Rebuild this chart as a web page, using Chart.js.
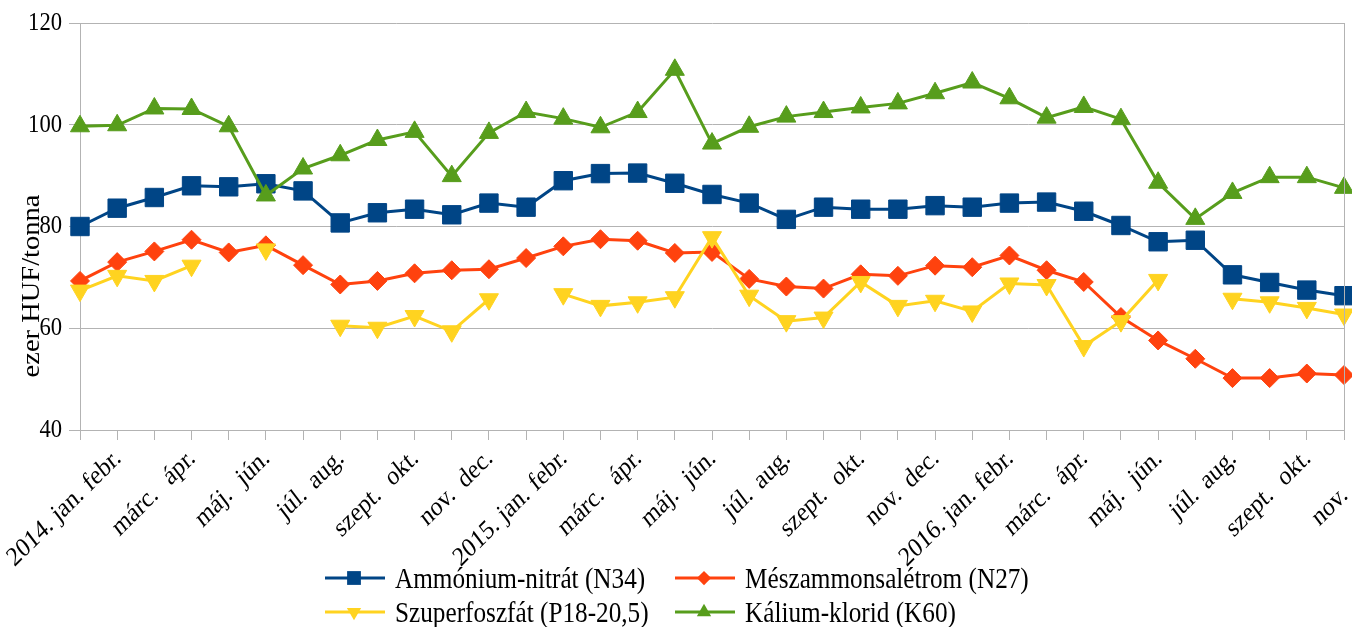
<!DOCTYPE html>
<html lang="hu">
<head>
<meta charset="utf-8">
<title>Műtrágyaárak</title>
<script src="https://cdn.jsdelivr.net/npm/chart.js@4/dist/chart.umd.min.js"></script>
<style>
  html, body { margin: 0; padding: 0; background: #fff; }
  #wrap { width: 1352px; height: 627px; }
</style>
</head>
<body>
<div id="wrap"><canvas id="chart" width="1352" height="627"></canvas></div>
<script>
// Data (ezer HUF/tonna)
const months = [
    '2014. jan.', 'febr.', 'márc.', 'ápr.', 'máj.', 'jún.', 'júl.', 'aug.', 'szept.', 'okt.', 'nov.', 'dec.',
    '2015. jan.', 'febr.', 'márc.', 'ápr.', 'máj.', 'jún.', 'júl.', 'aug.', 'szept.', 'okt.', 'nov.', 'dec.',
    '2016. jan.', 'febr.', 'márc.', 'ápr.', 'máj.', 'jún.', 'júl.', 'aug.', 'szept.', 'okt.', 'nov.'
];
const ammonium = [80.0, 83.6, 85.7, 88.0, 87.8, 88.4, 87.0, 80.7, 82.7, 83.4, 82.3, 84.6,
    83.8, 89.0, 90.4, 90.5, 88.5, 86.3, 84.6, 81.4, 83.8, 83.4, 83.4, 84.1,
    83.8, 84.6, 84.8, 83.0, 80.2, 77.0, 77.3, 70.5, 69.0, 67.5, 66.4];
const meszammon = [69.3, 73.0, 75.1, 77.4, 74.9, 76.3, 72.4, 68.6, 69.3, 70.8, 71.4, 71.6,
    73.8, 76.1, 77.5, 77.2, 74.8, 75.0, 69.7, 68.2, 67.8, 70.6, 70.3, 72.3,
    72.0, 74.3, 71.4, 69.1, 62.2, 57.6, 54.0, 50.2, 50.2, 51.1, 50.8];
const szuperfoszfat = [67.4, 70.3, 69.3, 72.3, null, 75.5, null, 60.5, 60.1, 62.4, 59.4, 65.7,
    null, 66.7, 64.4, 65.1, 66.1, 77.9, 66.4, 61.4, 62.1, 69.1, 64.4, 65.4,
    63.3, 68.8, 68.5, 56.5, 61.4, 69.5, null, 65.8, 65.1, 64.0, 62.7];
const kalium = [99.7, 99.9, 103.2, 103.1, 99.7, 86.1, 91.4, 94.0, 97.0, 98.6, 89.9, 98.4,
    102.5, 101.2, 99.5, 102.5, 110.8, 96.3, 99.6, 101.6, 102.5, 103.4, 104.2, 106.2,
    108.3, 105.2, 101.4, 103.5, 101.1, 88.6, 81.5, 86.6, 89.7, 89.7, 87.6];
const yTicks = [40, 60, 80, 100, 120];

const FONT = "'Liberation Serif', 'Times New Roman', serif";
const GRID = '#b3b3b3';
const SQUEEZE = 0.87; // the reference text is narrower than the plain font

const series = [
    { label: 'Ammónium-nitrát (N34)', data: ammonium, color: '#004586', style: 'rect', radius: 13, rot: 0 },
    { label: 'Mészammonsalétrom (N27)', data: meszammon, color: '#ff420e', style: 'rectRot', radius: 9.5, rot: 0 },
    { label: 'Szuperfoszfát (P18-20,5)', data: szuperfoszfat, color: '#ffd320', style: 'triangle', radius: 11, rot: 180 },
    { label: 'Kálium-klorid (K60)', data: kalium, color: '#579d1c', style: 'triangle', radius: 11, rot: 0 }
];

function text(ctx, str, x, y, size, align, baseline, angle) {
    ctx.save();
    ctx.translate(x, y);
    ctx.scale(SQUEEZE, 1);
    ctx.rotate(-(angle || 0) * Math.PI / 180);
    ctx.font = size + 'px ' + FONT;
    ctx.fillStyle = '#000';
    ctx.textAlign = align;
    ctx.textBaseline = baseline;
    ctx.fillText(str, 0, 0);
    ctx.restore();
}

// Draw a marker like the chart's own points (used for the legend)
function marker(ctx, s, x, y, r) {
    ctx.save();
    ctx.fillStyle = s.color;
    ctx.translate(x, y);
    ctx.rotate(s.rot * Math.PI / 180);
    ctx.beginPath();
    if (s.style === 'rect') {
        const h = r * Math.SQRT1_2;
        ctx.rect(-h, -h, 2 * h, 2 * h);
    } else if (s.style === 'rectRot') {
        ctx.moveTo(0, -r); ctx.lineTo(r, 0); ctx.lineTo(0, r); ctx.lineTo(-r, 0);
    } else {
        ctx.moveTo(0, -r);
        ctx.lineTo(r * Math.sin(Math.PI * 2 / 3), -r * Math.cos(Math.PI * 2 / 3));
        ctx.lineTo(r * Math.sin(Math.PI * 4 / 3), -r * Math.cos(Math.PI * 4 / 3));
    }
    ctx.closePath();
    ctx.fill();
    ctx.restore();
}

// Texts, right frame and the 2x2 legend
const extras = {
    id: 'extras',
    afterDraw(chart) {
        const ctx = chart.ctx;
        const a = chart.chartArea;
        const xs = chart.scales.x, ys = chart.scales.y;

        ctx.save();
        ctx.strokeStyle = GRID;
        ctx.lineWidth = 1;
        ctx.beginPath();
        ctx.moveTo(Math.round(a.right) + 0.5, a.top);
        ctx.lineTo(Math.round(a.right) + 0.5, a.bottom);
        ctx.stroke();
        ctx.restore();

        // y tick labels
        yTicks.forEach(v => text(ctx, String(v), a.left - 18, ys.getPixelForValue(v), 26, 'right', 'middle'));
        // y title
        text(ctx, 'ezer HUF/tonna', 39, 286, 28.5, 'center', 'alphabetic', 90);
        // x tick labels, staggered in two rows
        months.forEach((m, i) => {
            const x = xs.getPixelForTick(i);
            const y = i % 2 ? 460 : 497;
            text(ctx, m, x + 5, y, 27, 'right', 'alphabetic', 41);
        });

        // legend
        const cols = [325, 675];
        const rows = [578, 612];
        series.forEach((s, i) => {
            const x = cols[i % 2], y = rows[Math.floor(i / 2)];
            ctx.save();
            ctx.strokeStyle = s.color;
            ctx.lineWidth = 3;
            ctx.beginPath();
            ctx.moveTo(x, y);
            ctx.lineTo(x + 60, y);
            ctx.stroke();
            ctx.restore();
            marker(ctx, s, x + 29, y, s.radius * 0.75);
            text(ctx, s.label, x + 70, y + 10, 29, 'left', 'alphabetic');
        });
    }
};

new Chart(document.getElementById('chart'), {
    type: 'line',
    data: {
        labels: months,
        datasets: series.map((s, i) => ({
            label: s.label,
            data: s.data,
            borderColor: s.color,
            backgroundColor: s.color,
            borderWidth: 3,
            pointStyle: s.style,
            pointRadius: s.radius,
            pointRotation: s.rot,
            pointBorderWidth: 1,
            pointBackgroundColor: s.color,
            pointBorderColor: s.color,
            spanGaps: false,
            tension: 0,
            clip: false,
            order: series.length - i
        }))
    },
    options: {
        responsive: false,
        animation: false,
        layout: { autoPadding: false, padding: { top: 23, right: 8, left: 0, bottom: 0 } },
        plugins: {
            legend: { display: false },
            tooltip: { enabled: false }
        },
        scales: {
            x: {
                offset: false,
                afterFit(scale) { scale.height = 197; },
                grid: { drawOnChartArea: false, drawTicks: true, tickLength: 10, color: GRID },
                border: { display: true, color: GRID },
                ticks: { display: false, autoSkip: false }
            },
            y: {
                min: yTicks[0],
                max: yTicks[yTicks.length - 1],
                afterFit(scale) { scale.width = 80; },
                grid: { color: GRID, drawTicks: true, tickLength: 11 },
                border: { display: true, color: GRID },
                ticks: { display: false, stepSize: yTicks[1] - yTicks[0] }
            }
        }
    },
    plugins: [extras]
});
</script>
</body>
</html>
